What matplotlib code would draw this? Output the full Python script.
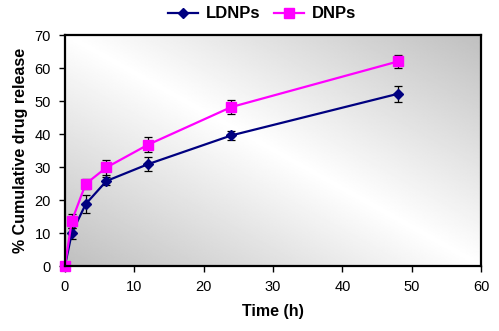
import matplotlib
matplotlib.use("Agg")
import matplotlib.pyplot as plt
import numpy as np

plt.rcParams.update({
    "font.family": ["Liberation Sans", "DejaVu Sans"],
    "font.size": 10.5,
})

# Release profiles (mean ± SD) over time
time_h = [0, 1, 3, 6, 12, 24, 48]
ldnps = [0, 10.0, 18.8, 25.8, 30.9, 39.6, 52.2]
ldnps_err = [0, 1.7, 2.6, 1.3, 2.2, 1.3, 2.5]
dnps = [0, 13.7, 24.9, 29.9, 36.8, 48.2, 62.0]
dnps_err = [0, 2.0, 1.5, 2.3, 2.3, 2.1, 1.9]

fig = plt.figure(figsize=(4.99, 3.31), dpi=100)
ax = fig.add_axes([0.130, 0.196, 0.834, 0.698])

# Diagonal grey-white-grey background inside the plot area
u, v = np.meshgrid(np.linspace(0, 1, 300), np.linspace(0, 1, 200))
shade = 1 - 0.25 * np.abs(u + v - 1)
ax.imshow(shade, cmap="gray", vmin=0, vmax=1, origin="lower",
          extent=[0, 1, 0, 1], transform=ax.transAxes, aspect="auto",
          interpolation="bilinear", zorder=0)

ax.errorbar(time_h, ldnps, yerr=ldnps_err, color="#000080", lw=1.6,
            marker="D", ms=5.5, ecolor="black", elinewidth=0.9, capsize=3,
            capthick=0.9, label="LDNPs", zorder=3, clip_on=False)
ax.errorbar(time_h, dnps, yerr=dnps_err, color="#FF00FF", lw=1.6,
            marker="s", ms=6.5, ecolor="black", elinewidth=0.9, capsize=3,
            capthick=0.9, label="DNPs", zorder=4, clip_on=False)

ax.set_xlim(0, 60)
ax.set_ylim(0, 70)
ax.set_xticks(range(0, 61, 10))
ax.set_yticks(range(0, 71, 10))
ax.tick_params(direction="out", length=4, width=1, pad=6)
for s in ax.spines.values():
    s.set_linewidth(1.6)
    s.set_zorder(5)

ax.set_xlabel("Time (h)", fontweight="bold", fontsize=11.5, labelpad=7)
ax.set_ylabel("% Cumulative drug release", fontweight="bold", fontsize=11.5,
              labelpad=5)

handles, labels = ax.get_legend_handles_labels()
handles = [h[0] for h in handles]
fig.legend(handles, labels, loc="center", bbox_to_anchor=(0.525, 0.958),
           ncol=2, frameon=False, handlelength=1.8, columnspacing=0.8,
           handletextpad=0.5, prop={"weight": "bold", "size": 12})

fig.savefig("out.png", dpi=100)
